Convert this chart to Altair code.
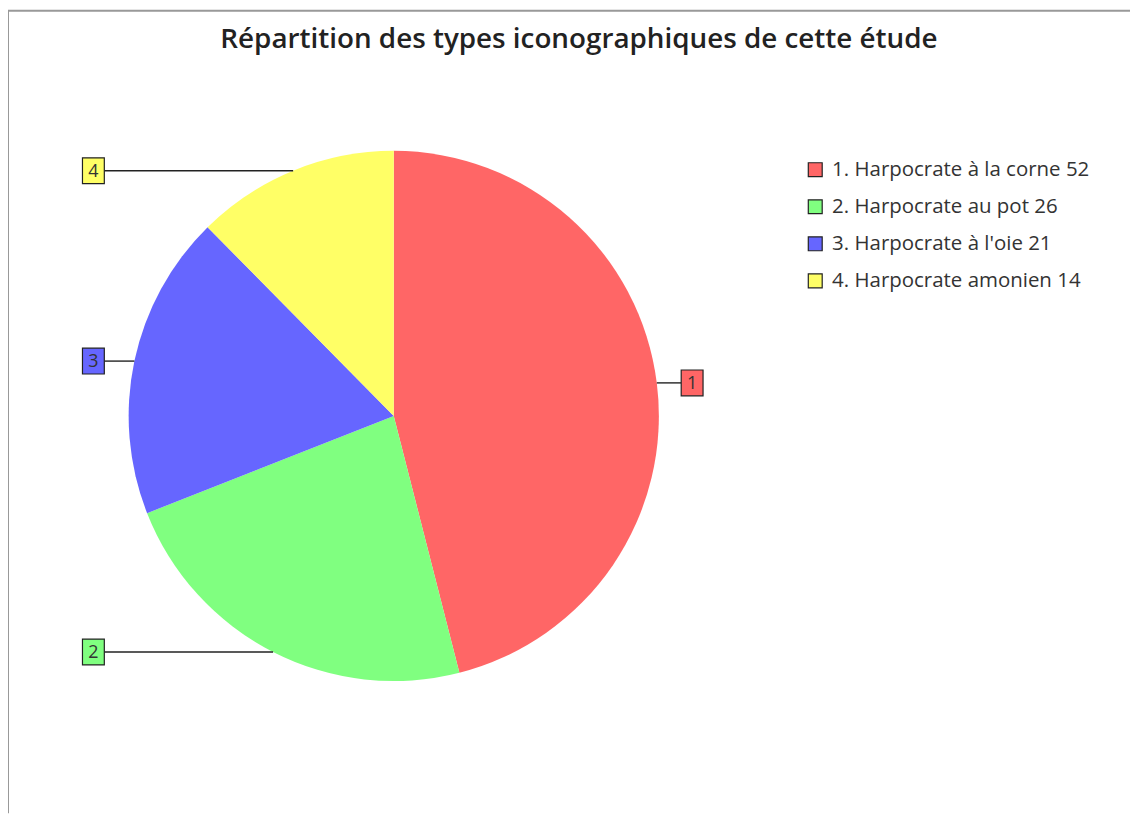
import altair as alt
import pandas as pd

# ---- data ----
ids = ["1", "2", "3", "4"]
names = ["Harpocrate à la corne", "Harpocrate au pot", "Harpocrate à l'oie", "Harpocrate amonien"]
counts = [52, 26, 21, 14]
colors = ["#FF6666", "#80FF80", "#6666FF", "#FFFF66"]
title_text = "Répartition des types iconographiques de cette étude"

df = pd.DataFrame({"id": ids, "name": names, "count": counts, "order": list(range(len(ids)))})
df["legend"] = df["id"] + ". " + df["name"] + " " + df["count"].astype(str)

# ---- layout (pixels in view space) ----
W, H = 1130, 808
CX, CY, R = 388.5, 408, 267
BOX_L, BOX_R = 86, 689  # label box centres
BW, BH = 22, 26
LEG_X, LEG_Y0, LEG_DY = 813, 160, 37.3
FONT = "Open Sans"

color = alt.Color("id:N", scale=alt.Scale(domain=ids, range=colors), legend=None)

pie = alt.Chart(df).mark_arc(outerRadius=R).encode(
    theta=alt.Theta("count:Q", stack=True),
    color=color,
    order=alt.Order("order:Q"),
    x=alt.value(CX),
    y=alt.value(CY),
)

geo = alt.Chart(df).transform_joinaggregate(
    total="sum(count)"
).transform_window(
    cum="sum(count)", sort=[alt.SortField("order")], frame=[None, 0]
).transform_calculate(
    mid="2*PI*(datum.cum - datum.count/2)/datum.total",
).transform_calculate(
    ax=f"{CX} + {R}*sin(datum.mid)",
    ay=f"{CY} - {R}*cos(datum.mid)",
    bx=f"sin(datum.mid) > 0 ? {BOX_R} : {BOX_L}",
).transform_calculate(
    lx=f"sin(datum.mid) > 0 ? datum.bx - {BW/2} : datum.bx + {BW/2}",
    rx1=f"datum.bx - {BW/2}",
    rx2=f"datum.bx + {BW/2}",
    ry1=f"datum.ay - {BH/2}",
    ry2=f"datum.ay + {BH/2}",
)

leader = geo.mark_rule(color="#222", strokeWidth=1.4).encode(
    x=alt.X("ax:Q", scale=None),
    x2="lx:Q",
    y=alt.Y("ay:Q", scale=None),
)
box = geo.mark_rect(stroke="#222", strokeWidth=1.2).encode(
    x=alt.X("rx1:Q", scale=None),
    x2="rx2:Q",
    y=alt.Y("ry1:Q", scale=None),
    y2="ry2:Q",
    color=color,
)
boxtext = geo.mark_text(font=FONT, fontSize=18, color="#333", baseline="middle", dy=1).encode(
    x=alt.X("bx:Q", scale=None),
    y=alt.Y("ay:Q", scale=None),
    text="id:N",
)

leg = alt.Chart(df).transform_calculate(
    ly=f"{LEG_Y0} + datum.order*{LEG_DY}",
    lxs=f"{LEG_X}",
    lxt=f"{LEG_X + 17}",
)
leg_sym = leg.mark_square(size=196, stroke="#222", strokeWidth=1.2, opacity=1).encode(
    x=alt.X("lxs:Q", scale=None),
    y=alt.Y("ly:Q", scale=None),
    color=color,
)
leg_txt = leg.mark_text(font=FONT, fontSize=20.6, color="#333", align="left", baseline="middle").encode(
    x=alt.X("lxt:Q", scale=None),
    y=alt.Y("ly:Q", scale=None),
    text="legend:N",
)

title = alt.Chart(pd.DataFrame({"t": [title_text]})).mark_text(
    font=FONT, fontSize=28, fontWeight=600, color="#222", baseline="middle"
).encode(x=alt.value(575), y=alt.value(29), text="t:N")

frame = alt.Chart(pd.DataFrame({"a": [0]}))
top_border = frame.mark_rule(color="#999", strokeWidth=2).encode(
    x=alt.value(0), x2=alt.value(W), y=alt.value(0)
)
left_border = frame.mark_rule(color="#999", strokeWidth=2).encode(
    x=alt.value(0), y=alt.value(0), y2=alt.value(H)
)

chart = alt.layer(
    pie, leader, box, boxtext, leg_sym, leg_txt, title, top_border, left_border
).properties(
    width=W, height=H, padding=0, autosize="none"
).configure_view(stroke=None)

chart.save("out.html", embed_options={"renderer": "svg", "actions": False})
